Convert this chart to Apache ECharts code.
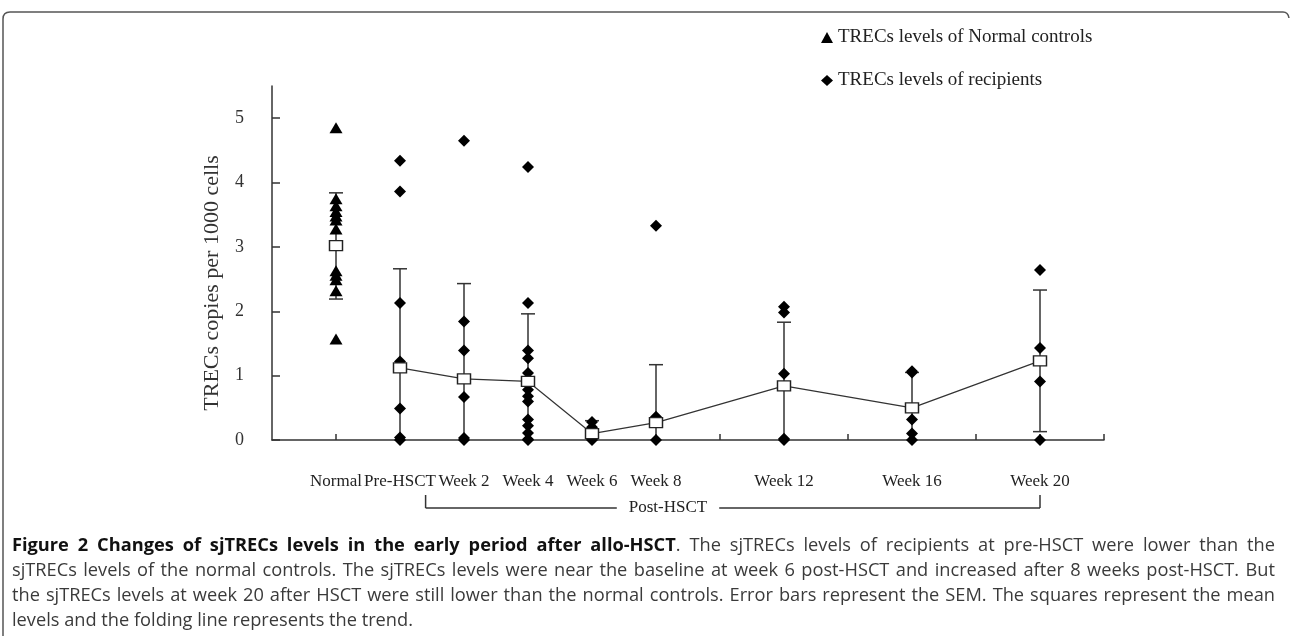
<!DOCTYPE html>
<html><head><meta charset="utf-8">
<script src="https://cdn.jsdelivr.net/npm/echarts@6/dist/echarts.min.js"></script>
<style>html,body{margin:0;padding:0;background:#fff}#chart{width:1290px;height:636px}</style>
</head><body><div id="chart"></div>
<script>
// ---------------- data ----------------
const categories = ['Normal', 'Pre-HSCT', 'Week 2', 'Week 4', 'Week 6', 'Week 8', 'Week 12', 'Week 16', 'Week 20'];
const categoryPositions = [1, 2, 3, 4, 5, 6, 8, 10, 12];
const xTickValues = [1, 2, 3, 4, 5, 6, 7, 8, 9, 10, 11, 12, 13];
const yTickValues = [0, 1, 2, 3, 4, 5];

const normalControls = [4.85, 3.75, 3.64, 3.55, 3.48, 3.42, 3.28, 2.63, 2.56, 2.49, 2.32, 1.57];
const preHSCT = [4.34, 3.86, 2.13, 1.22, 0.49, 0.04, 0];
const week2 = [4.65, 1.84, 1.39, 0.67, 0.03, 0];
const week4 = [4.24, 2.13, 1.39, 1.27, 1.04, 0.78, 0.68, 0.60, 0.32, 0.22, 0.11, 0.01, 0];
const week6 = [0.28, 0.20, 0.02, 0];
const week8 = [3.33, 0.36, 0];
const week12 = [2.07, 1.98, 1.03, 0.02, 0];
const week16 = [1.07, 1.05, 0.32, 0.10, 0];
const week20 = [2.64, 1.43, 0.91, 0];
const recipientGroups = [preHSCT, week2, week4, week6, week8, week12, week16, week20];

const meanValues = [3.02, 1.12, 0.95, 0.91, 0.10, 0.27, 0.84, 0.50, 1.23];
const errHigh = [3.84, 2.66, 2.43, 1.96, 0.30, 1.17, 1.83, 1.05, 2.33];
const errLow = [2.19, -0.42, -0.53, -0.14, -0.10, -0.63, -0.15, -0.05, 0.13];

const legendNames = ['TRECs levels of Normal controls', 'TRECs levels of recipients'];
const yAxisTitle = 'TRECs copies per 1000 cells';
const postLabel = 'Post-HSCT';
const bracketRange = [2.4, 12];      // x-axis units spanned by the Post-HSCT bracket
const captionLines = [
  '*Figure 2 Changes of sjTRECs levels in the early period after allo-HSCT*. The sjTRECs levels of recipients at pre-HSCT were lower than the',
  'sjTRECs levels of the normal controls. The sjTRECs levels were near the baseline at week 6 post-HSCT and increased after 8 weeks post-HSCT. But',
  'the sjTRECs levels at week 20 after HSCT were still lower than the normal controls. Error bars represent the SEM. The squares represent the mean',
  'levels and the folding line represents the trend.'
];

// ---------------- build ----------------
const SERIF = '"Liberation Serif","Times New Roman",serif';
const CAP_FONT = '"Open Sans","DejaVu Sans Condensed",sans-serif';
const chart = echarts.init(document.getElementById('chart'), null, {renderer: 'canvas'});

const normalPoints = normalControls.map(v => [categoryPositions[0], v]);
const recipientPoints = [];
recipientGroups.forEach((g, i) => g.forEach(v => recipientPoints.push([categoryPositions[i + 1], v])));
const normalMean = [[categoryPositions[0], meanValues[0]]];
const meanLine = meanValues.slice(1).map((v, i) => [categoryPositions[i + 1], v]);
const errData = meanValues.map((m, i) => [categoryPositions[i], errLow[i], errHigh[i]]);

const option = {
  animation: false,
  backgroundColor: '#fff',
  grid: {left: 272, right: 186, top: 86, bottom: 196},
  legend: {
    data: legendNames, orient: 'vertical', left: 816, top: 23, itemGap: 24,
    itemWidth: 12, itemHeight: 11, selectedMode: false,
    textStyle: {fontFamily: SERIF, fontSize: 19, color: '#222'}
  },
  xAxis: {
    type: 'value', min: 0, max: 13, interval: 1,
    splitLine: {show: false},
    axisLine: {show: true, onZero: false, lineStyle: {color: '#333', width: 1.5}},
    axisTick: {show: true, inside: true, length: 6, customValues: xTickValues, lineStyle: {color: '#333', width: 1.5}},
    axisLabel: {
      customValues: categoryPositions,
      formatter: v => categories[categoryPositions.indexOf(v)] || '',
      margin: 33, fontFamily: SERIF, fontSize: 17, color: '#222'
    }
  },
  yAxis: {
    type: 'value', min: 0, max: 5.5, interval: 1,
    splitLine: {show: false},
    axisLine: {show: true, lineStyle: {color: '#333', width: 1.5}},
    axisTick: {show: true, inside: true, length: 8, customValues: yTickValues, lineStyle: {color: '#333', width: 1.5}},
    axisLabel: {customValues: yTickValues, margin: 28, fontFamily: SERIF, fontSize: 18, color: '#333'}
  },
  series: [
    {
      type: 'custom', name: 'error', z: 1, silent: true,
      encode: {x: 0, y: [1, 2]},
      data: errData,
      renderItem: function (params, api) {
        const x = api.value(0), lo = api.value(1), hi = api.value(2);
        const t = api.coord([x, hi]);
        const b = api.coord([x, Math.max(lo, 0)]);
        const hw = 7;
        const st = {stroke: '#333', lineWidth: 1.5};
        const ch = [
          {type: 'line', shape: {x1: t[0], y1: t[1], x2: b[0], y2: b[1]}, style: st},
          {type: 'line', shape: {x1: t[0] - hw, y1: t[1], x2: t[0] + hw, y2: t[1]}, style: st}
        ];
        if (lo > 0) ch.push({type: 'line', shape: {x1: b[0] - hw, y1: b[1], x2: b[0] + hw, y2: b[1]}, style: st});
        return {type: 'group', children: ch};
      }
    },
    {
      type: 'scatter', name: legendNames[0], z: 2, data: normalPoints,
      symbol: 'triangle', symbolSize: [13, 11], itemStyle: {color: '#000', opacity: 1}
    },
    {
      type: 'scatter', name: legendNames[1], z: 2, data: recipientPoints,
      symbol: 'diamond', symbolSize: [12, 12], itemStyle: {color: '#000', opacity: 1}
    },
    {
      type: 'scatter', name: 'normalMean', z: 4, data: normalMean,
      symbol: 'rect', symbolSize: [13, 10],
      itemStyle: {color: '#fff', borderColor: '#222', borderWidth: 1.3, opacity: 1}
    },
    {
      type: 'line', name: 'mean', z: 4, data: meanLine,
      symbol: 'rect', symbolSize: [13, 10], showAllSymbol: true,
      itemStyle: {color: '#fff', borderColor: '#222', borderWidth: 1.3},
      lineStyle: {color: '#333', width: 1.2}
    }
  ]
};
chart.setOption(option);

// ---------------- annotations (graphic) ----------------
const meas = document.createElement('canvas').getContext('2d');
function fontStr(b, s) { return (b ? 'bold ' : 'normal ') + s + 'px ' + CAP_FONT; }
function tw(t, b, s) { meas.font = fontStr(b, s); return meas.measureText(t).width; }

let boldState = false;
const parsed = captionLines.map(line => line.split(' ').map(word => {
  const segs = []; let cur = '';
  for (const ch of word) {
    if (ch === '*') { if (cur) segs.push([cur, boldState]); cur = ''; boldState = !boldState; }
    else cur += ch;
  }
  if (cur) segs.push([cur, boldState]);
  return segs;
}));

// caption font size chosen so the last (unjustified) line matches the reference width
const lastW100 = parsed[3].reduce((a, w) => a + w.reduce((s, g) => s + tw(g[0], g[1], 100), 0), 0) + (parsed[3].length - 1) * tw(' ', false, 100);
const capSize = Math.max(13, Math.min(19, 100 * 401 / lastW100));

const graphics = [];
const frameSt = {stroke: '#555', lineWidth: 1.5};
graphics.push({type: 'line', silent: true, shape: {x1: 3, y1: 636, x2: 3, y2: 19}, style: frameSt});
graphics.push({type: 'bezierCurve', silent: true, shape: {x1: 3, y1: 19, x2: 10, y2: 12, cpx1: 3, cpy1: 12}, style: Object.assign({fill: 'none'}, frameSt)});
graphics.push({type: 'line', silent: true, shape: {x1: 10, y1: 12, x2: 1283, y2: 12}, style: frameSt});
graphics.push({type: 'bezierCurve', silent: true, shape: {x1: 1283, y1: 12, x2: 1289, y2: 18, cpx1: 1288, cpy1: 12}, style: Object.assign({fill: 'none'}, frameSt)});

// y axis title
graphics.push({type: 'text', x: 212, y: 283, rotation: Math.PI / 2,
  style: {text: yAxisTitle, fontFamily: SERIF, fontSize: 22, fill: '#333', align: 'center', verticalAlign: 'middle', textAlign: 'center', textVerticalAlign: 'middle'}});

// Post-HSCT bracket positioned from axis coordinates
const axisY = chart.convertToPixel({gridIndex: 0}, [0, 0])[1];
const bx0 = chart.convertToPixel({gridIndex: 0}, [bracketRange[0], 0])[0];
const bx1 = chart.convertToPixel({gridIndex: 0}, [bracketRange[1], 0])[0];
const labelX = 668;
const by = axisY + 68, byTop = axisY + 55;
meas.font = '17px ' + SERIF;
const plw = meas.measureText(postLabel).width;
const lineSt = {stroke: '#333', lineWidth: 1.5};
graphics.push({type: 'line', silent: true, shape: {x1: bx0, y1: byTop, x2: bx0, y2: by}, style: lineSt});
graphics.push({type: 'line', silent: true, shape: {x1: bx0, y1: by, x2: labelX - plw / 2 - 12, y2: by}, style: lineSt});
graphics.push({type: 'line', silent: true, shape: {x1: labelX + plw / 2 + 12, y1: by, x2: bx1, y2: by}, style: lineSt});
graphics.push({type: 'line', silent: true, shape: {x1: bx1, y1: by, x2: bx1, y2: byTop}, style: lineSt});
graphics.push({type: 'text', x: labelX, y: by,
  style: {text: postLabel, fontFamily: SERIF, fontSize: 17, fill: '#222', align: 'center', verticalAlign: 'middle', textAlign: 'center', textVerticalAlign: 'middle'}});

// caption (justified word by word)
const capLeft = 12, capRight = 1275, capY0 = 546, capDy = 25;
parsed.forEach((words, li) => {
  const widths = words.map(w => w.reduce((s, g) => s + tw(g[0], g[1], capSize), 0));
  const total = widths.reduce((a, b) => a + b, 0);
  const justify = li < parsed.length - 1;
  const gap = justify ? (capRight - capLeft - total) / (words.length - 1) : tw(' ', false, capSize);
  let x = capLeft;
  words.forEach((w, wi) => {
    let sx = x;
    w.forEach(g => {
      graphics.push({type: 'text', x: sx, y: capY0 + li * capDy, silent: true,
        style: {text: g[0], fontFamily: CAP_FONT, fontSize: capSize, fontWeight: g[1] ? 'bold' : 'normal',
          fill: g[1] ? '#111' : '#3a3a3a', align: 'left', verticalAlign: 'middle', textAlign: 'left', textVerticalAlign: 'middle'}});
      sx += tw(g[0], g[1], capSize);
    });
    x += widths[wi] + gap;
  });
});

chart.setOption({graphic: {elements: graphics}});
</script></body></html>
